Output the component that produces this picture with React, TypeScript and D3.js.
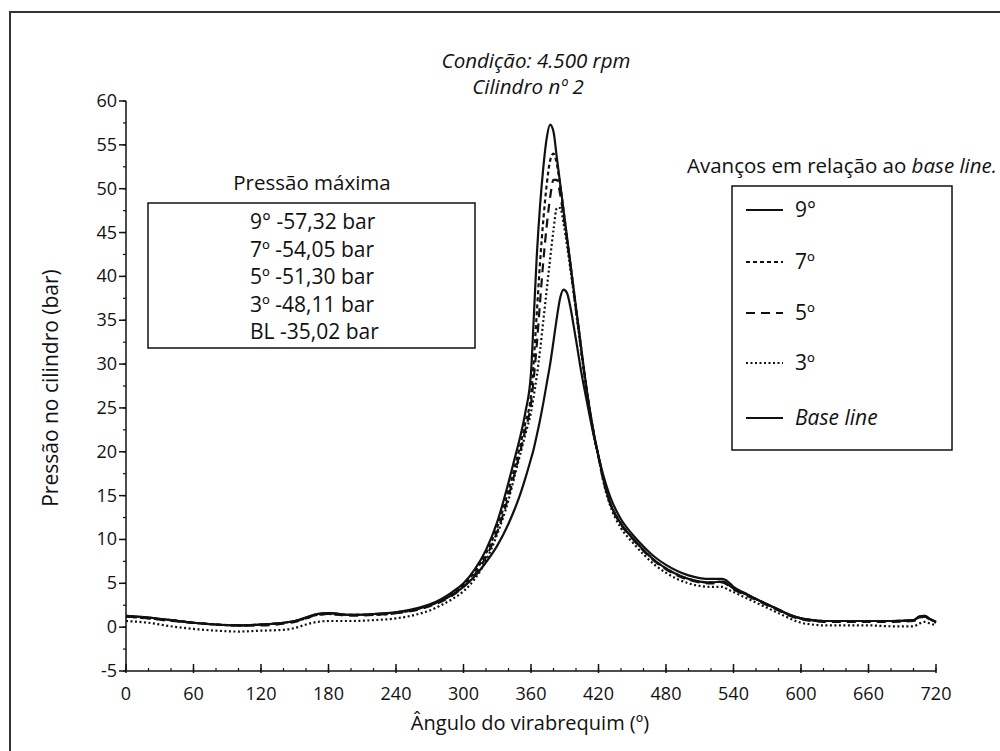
import React from "react";
import * as d3 from "d3";

const angles = [0,20,40,60,80,100,120,140,150,160,170,180,200,220,240,260,270,280,290,300,310,320,330,340,345,350,355,360,362,365,368,371,374,377,380,383,386,389,392,395,398,401,404,408,412,416,420,425,430,440,450,460,470,480,490,500,510,520,530,535,540,550,560,570,580,590,600,610,620,640,660,680,700,705,710,715,720];

const adv9 = [1.3,1.1,0.8,0.5,0.3,0.2,0.3,0.5, 0.7,1.1,1.5,1.6, 1.4,1.5,1.7,2.2, 2.6,3.2,4.0,5.0, 6.6,8.8,12.0,16.5, 19.0,21.5,24.5,29.0, 34,42,48,52.5, 55.8,57.3,56.5,53.5, 50.5,47.5,44.5,41.5, 38.5,35.5,32.5,28.5, 25,22,19.5,16.5, 14.3,11.8,10.2,8.8, 7.6,6.7,6.0,5.5, 5.2,5.1,5.2,4.9, 4.4,3.8,3.2,2.6, 2.0,1.4,1.0,0.8, 0.7,0.7,0.7,0.7, 0.8,1.2,1.3,0.9, 0.6];
const adv7 = [1.2,1.0,0.8,0.5,0.3,0.2,0.3,0.5, 0.7,1.0,1.4,1.5, 1.4,1.4,1.6,2.1, 2.5,3.0,3.8,4.8, 6.3,8.4,11.4,15.6, 18.0,20.5,23.3,26.5, 29.5,35.5,41.5,46.5, 50.5,53.2,54.0,52.8, 50.3,47.4,44.4,41.4, 38.4,35.4,32.4,28.5, 25,22,19.5,16.5, 14.3,11.8,10.2,8.8, 7.6,6.7,6.0,5.5, 5.2,5.1,5.2,4.9, 4.4,3.8,3.2,2.6, 2.0,1.4,1.0,0.8, 0.7,0.7,0.7,0.7, 0.8,1.1,1.2,0.9, 0.6];
const adv5 = [1.2,1.0,0.7,0.5,0.3,0.2,0.2,0.4, 0.6,1.0,1.4,1.5, 1.3,1.4,1.6,2.0, 2.4,2.9,3.6,4.6, 6.0,8.0,10.9,14.9, 17.3,19.8,22.5,25.5, 27.8,32.0,37.0,41.8, 45.8,49.0,51.0,51.0, 49.3,46.8,44.2,41.2, 38.2,35.2,32.2,28.3, 24.9,21.9,19.4,16.4, 14.2,11.7,10.1,8.7, 7.5,6.6,5.9,5.4, 5.1,5.0,5.1,4.8, 4.3,3.7,3.1,2.5, 1.9,1.3,0.9,0.7, 0.6,0.6,0.6,0.6, 0.7,1.0,1.2,0.8, 0.5];
const adv3 = [0.7,0.5,0.1,-0.2,-0.4,-0.5,-0.4,-0.3, -0.1,0.3,0.6,0.7, 0.7,0.8,1.0,1.5, 1.9,2.5,3.2,4.1, 5.5,7.6,10.6,14.5, 17.0,19.5,22.0,24.5, 26.0,28.5,31.5,35.0, 38.5,42.0,45.3,47.8, 47.8,46.0,43.5,40.8, 38.0,35.0,32.0,28.2, 24.8,21.8,19.3,16.2, 14.0,11.3,9.7,8.3, 7.1,6.2,5.5,5.0, 4.7,4.6,4.6,4.3, 4.0,3.4,2.8,2.2, 1.6,1.0,0.5,0.3, 0.2,0.2,0.2,0.1, 0.1,0.4,0.6,0.4, 0.2];
const baseLine = [1.3,1.1,0.8,0.5,0.3,0.2,0.3,0.5, 0.7,1.1,1.5,1.6, 1.4,1.5,1.7,2.1, 2.5,3.0,3.7,4.6, 5.8,7.4,9.3,11.8, 13.3,15.0,17.0,19.2, 20.1,21.8,23.6,25.6, 27.8,30.0,32.6,35.3, 37.6,38.5,38.1,36.5, 34.3,32.0,29.6,26.8, 24.2,21.7,19.5,17.0, 15.0,12.3,10.6,9.2, 8.0,7.1,6.4,5.9, 5.6,5.5,5.5,5.2, 4.6,3.9,3.2,2.6, 2.0,1.4,1.0,0.8, 0.7,0.7,0.7,0.7, 0.8,1.2,1.3,0.9, 0.6];

const xTicks = [0,60,120,180,240,300,360,420,480,540,600,660,720];
const yTicks = [-5,0,5,10,15,20,25,30,35,40,45,50,55,60];
const maxLabels = ["9° -57,32 bar","7º -54,05 bar","5º -51,30 bar","3º -48,11 bar","BL -35,02 bar"];
const legendLabels = ["9°","7º","5º","3º","Base line"];

const FONT = "'Open Sans', 'Noto Sans', sans-serif";

export default function App() {
  const x = d3.scaleLinear().domain([0, 720]).range([126, 936]);
  const y = d3.scaleLinear().domain([-5, 60]).range([671, 101]);

  const seriesList = [
    { vals: adv9, dash: undefined },
    { vals: adv7, dash: "4,3" },
    { vals: adv5, dash: "9,6" },
    { vals: adv3, dash: "2,2.5" },
    { vals: baseLine, dash: undefined },
  ];
  const line = d3.line<number>()
    .x((_, i) => x(angles[i]))
    .y((d) => y(d))
    .curve(d3.curveMonotoneX);

  const xMinor = d3.range(0, 721, 20);
  const yMinor = d3.range(-5, 60.1, 2.5);

  const legendX0 = 746, legendX1 = 783;
  const legendRows = [210, 262, 313, 363, 418];

  return (
    <svg width={1000} height={751} style={{ position: "absolute", left: 0, top: 0, background: "#fff" }} fontFamily={FONT}>
      <rect x={0} y={0} width={1000} height={751} fill="#fff" />
      <path d="M10,760 L10,12 L1005,12" fill="none" stroke="#333" strokeWidth={2} />

      <text x={536} y={68} textAnchor="middle" fontSize={20.5} fontStyle="italic" fill="#111">Condição: 4.500 rpm</text>
      <text x={528} y={94} textAnchor="middle" fontSize={20.5} fontStyle="italic" fill="#111">Cilindro nº 2</text>

      <line x1={x(0)} x2={x(0)} y1={y(60)} y2={y(-5)} stroke="#111" strokeWidth={1.5} />
      <line x1={x(0)} x2={x(720)} y1={y(-5)} y2={y(-5)} stroke="#111" strokeWidth={1.5} />
      {yMinor.map((v) => (
        <line key={"ym" + v} x1={x(0) - 3} x2={x(0)} y1={y(v)} y2={y(v)} stroke="#111" strokeWidth={1.2} />
      ))}
      {yTicks.map((v) => (
        <g key={"yt" + v}>
          <line x1={x(0) - 7} x2={x(0)} y1={y(v)} y2={y(v)} stroke="#111" strokeWidth={1.5} />
          <text x={x(0) - 9} y={y(v) + 6} textAnchor="end" fontSize={18} fill="#111">{v}</text>
        </g>
      ))}
      {xMinor.map((v) => (
        <line key={"xm" + v} x1={x(v)} x2={x(v)} y1={y(-5)} y2={y(-5) - 3} stroke="#111" strokeWidth={1.2} />
      ))}
      {xTicks.map((v) => (
        <g key={"xt" + v}>
          <line x1={x(v)} x2={x(v)} y1={y(-5) + 2} y2={y(-5) - 7} stroke="#111" strokeWidth={1.5} />
          <text x={x(v)} y={y(-5) + 29} textAnchor="middle" fontSize={18} fill="#111">{v}</text>
        </g>
      ))}

      <text x={530} y={730} textAnchor="middle" fontSize={20} fill="#111">Ângulo do virabrequim (º)</text>
      <text transform="translate(58,388) rotate(-90)" textAnchor="middle" fontSize={21} fill="#111">Pressão no cilindro (bar)</text>

      {seriesList.map((s, i) => (
        <path key={"s" + i} d={line(s.vals) || ""} fill="none" stroke="#111" strokeWidth={2.2} strokeDasharray={s.dash} />
      ))}

      <text x={312} y={190} textAnchor="middle" fontSize={20.5} fill="#111">Pressão máxima</text>
      <rect x={148} y={203} width={327} height={145} fill="none" stroke="#111" strokeWidth={1.5} />
      {maxLabels.map((t, i) => (
        <text key={"ml" + i} x={250} y={229 + i * 27.5} fontSize={21} fill="#111">{t}</text>
      ))}

      <text x={687} y={173} fontSize={20.5} fill="#111">Avanços em relação ao <tspan fontStyle="italic">base line.</tspan></text>
      <rect x={732} y={186} width={220} height={264} fill="none" stroke="#111" strokeWidth={1.5} />
      {legendLabels.map((t, i) => (
        <g key={"lg" + i}>
          <line x1={legendX0} x2={legendX1} y1={legendRows[i]} y2={legendRows[i]} stroke="#111" strokeWidth={2.2} strokeDasharray={seriesList[i].dash} />
          <text x={795} y={legendRows[i] + 7} fontSize={21} fontStyle={i === 4 ? "italic" : "normal"} fill="#111">{t}</text>
        </g>
      ))}
    </svg>
  );
}
